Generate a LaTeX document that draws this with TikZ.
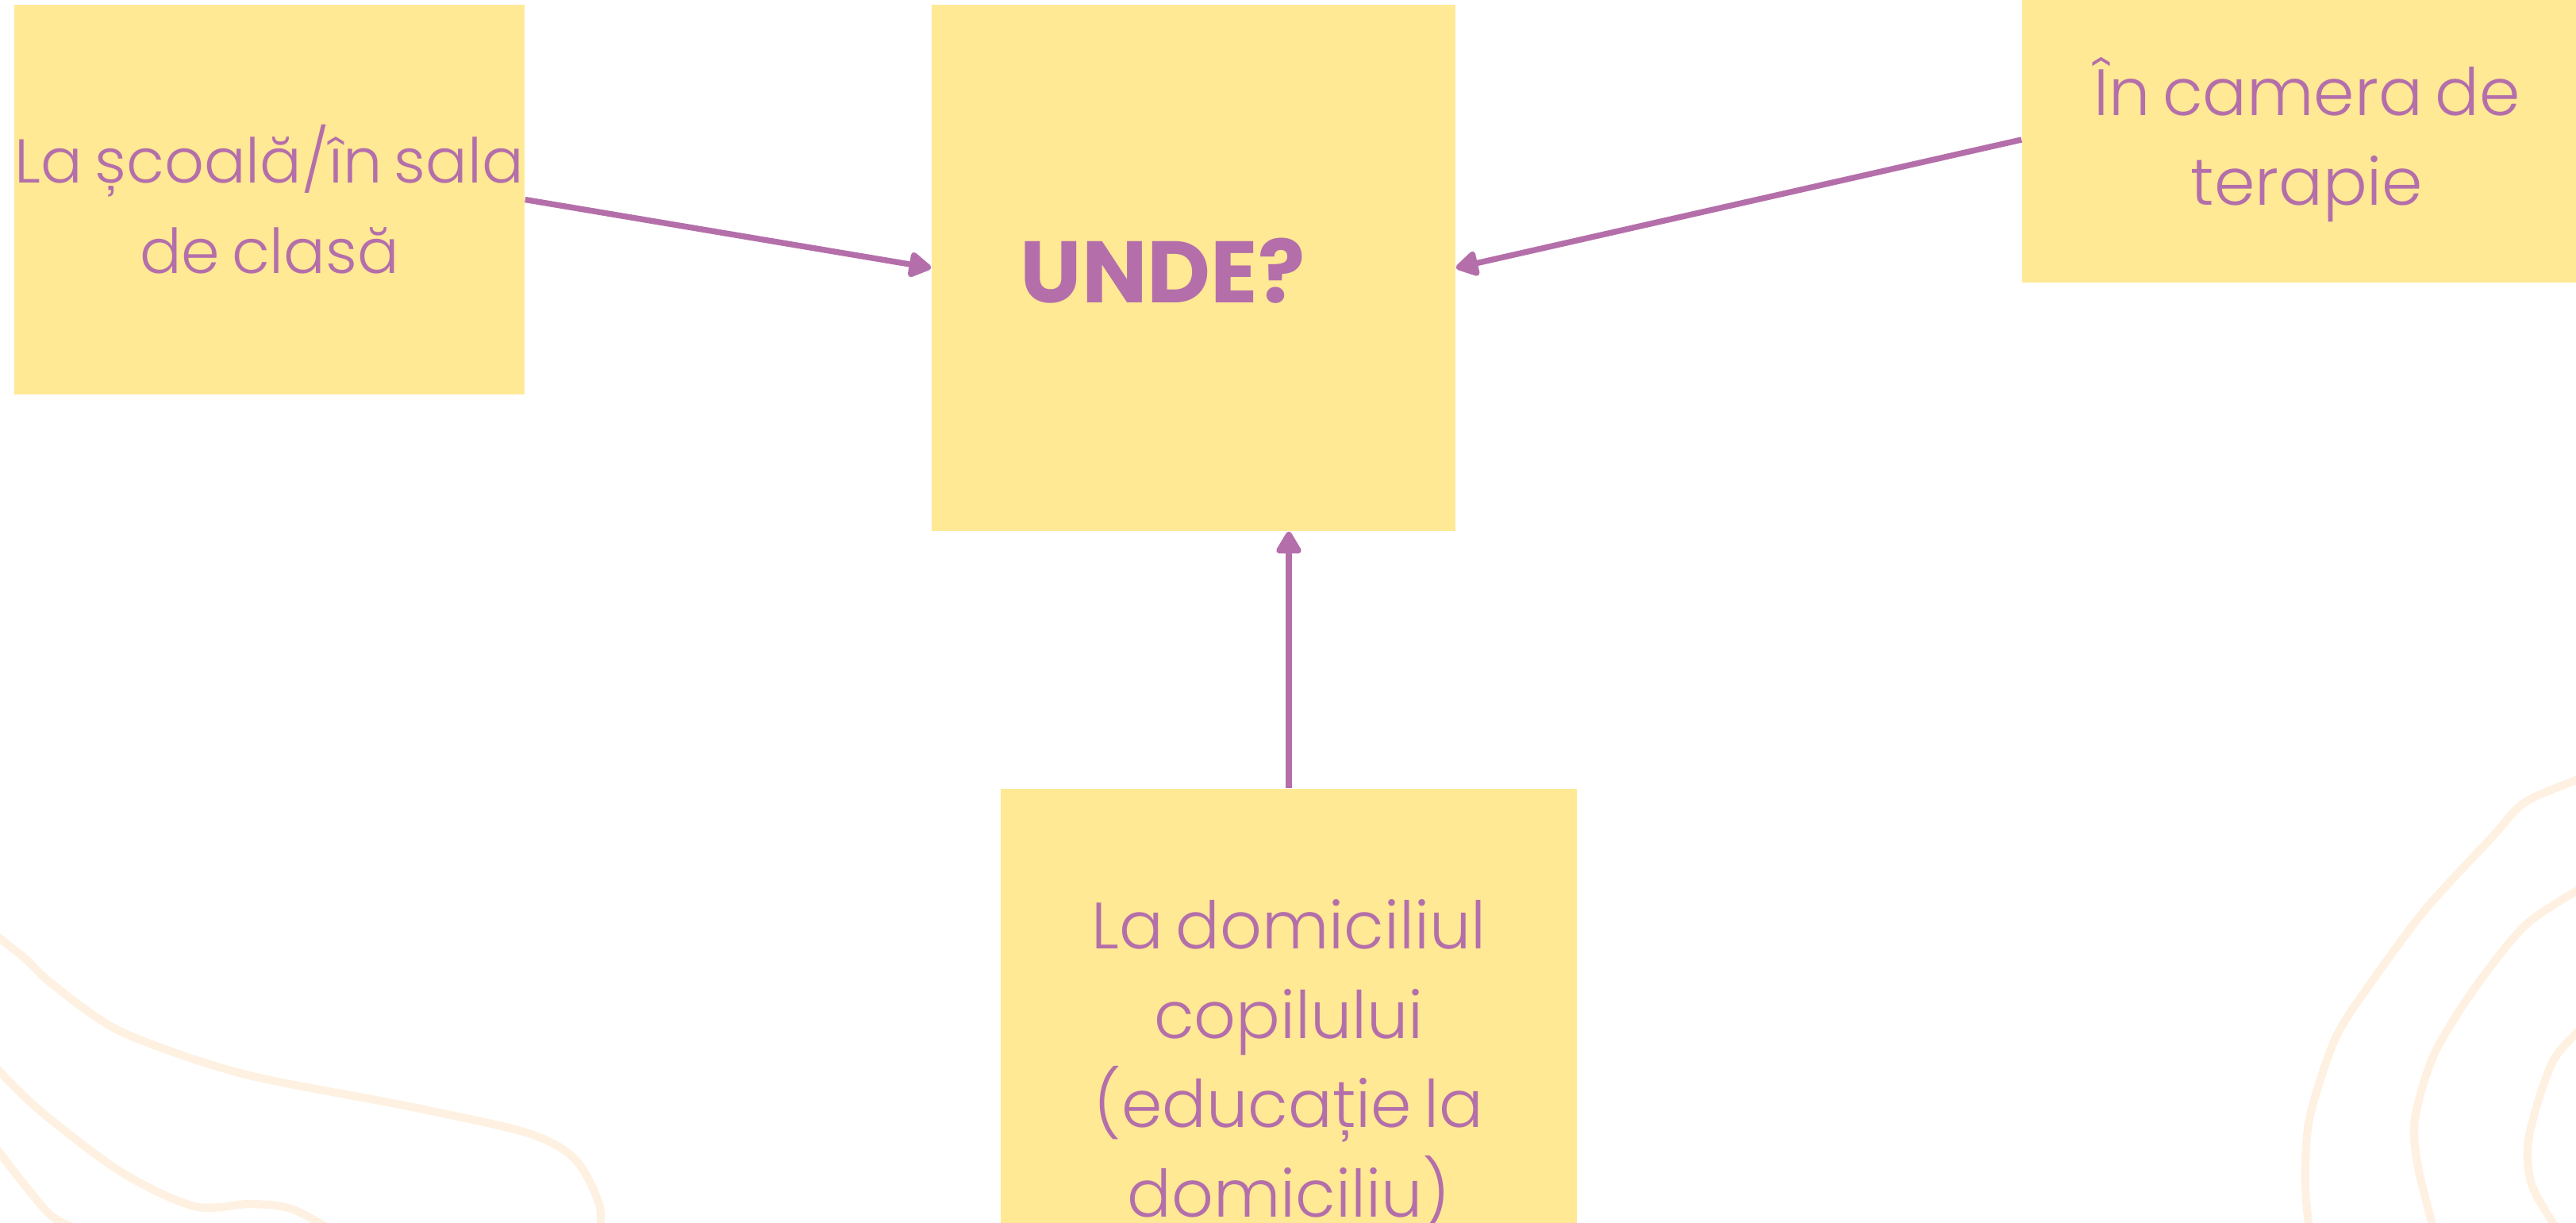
\documentclass[tikz,border=0pt]{standalone}
\usepackage{fontspec}
\setmainfont{Poppins Light}[WordSpace=0.7]
\newfontfamily\heavyfont{Poppins Bold}
\usetikzlibrary{arrows.meta}
\definecolor{notefill}{HTML}{FFE995}
\definecolor{plum}{HTML}{B46FAA}
\definecolor{swirl}{HTML}{FEF1E1}
\tikzset{>={Triangle[round,length=9pt,width=10pt]}}
\tikzset{
  note/.style={rectangle,fill=notefill,inner sep=0pt,align=center,text=plum,font=\fontsize{23.5}{32}\selectfont},
  link/.style={draw=plum,line width=2.1pt,->},
  contour/.style={draw=swirl,line width=2.9pt,line cap=round}
}

\begin{document}
\begin{tikzpicture}
\useasboundingbox (0,0) rectangle (32.46,-15.40);
\clip (0,0) rectangle (32.46,-15.40);
% background contours
\draw[contour] plot[smooth] coordinates {(-0.1,-11.75) (0.31,-12.07) (0.66,-12.40) (1.53,-13.00) (3.06,-13.53) (5.10,-13.93) (6.63,-14.27) (7.24,-14.60) (7.55,-15.17) (7.55,-15.6)};
\draw[contour] plot[smooth] coordinates {(-0.1,-13.40) (0.51,-14.00) (1.53,-14.77) (2.45,-15.20) (3.16,-15.17) (3.67,-15.23) (4.18,-15.5)};
\draw[contour] plot[smooth] coordinates {(-0.1,-14.40) (0.31,-14.93) (0.66,-15.33) (1.02,-15.5)};
\draw[contour] plot[smooth] coordinates {(32.6,-9.78) (31.83,-10.10) (31.40,-10.55) (30.57,-11.45) (29.90,-12.35) (29.43,-13.08) (29.10,-14.10) (29.05,-14.92) (29.10,-15.5)};
\draw[contour] plot[smooth] coordinates {(32.6,-11.15) (31.83,-11.65) (31.17,-12.47) (30.67,-13.29) (30.43,-14.10) (30.47,-14.71) (30.67,-15.5)};
\draw[contour] plot[smooth] coordinates {(32.6,-12.90) (32.17,-13.37) (31.87,-14.31) (31.90,-14.92) (32.23,-15.5)};
% notes
\node[note,font=\fontsize{22.2}{32.4}\selectfont,minimum width=6.43cm,minimum height=4.91cm] (school) at (3.395,-2.515) {La școală/în sala\\de clasă};
\node[note,minimum width=6.60cm,minimum height=6.63cm] (where) at (15.04,-3.375) {};
\node[note,font=\fontsize{23.5}{32.4}\selectfont,minimum width=7.18cm,minimum height=3.60cm] (therapy) at (29.07,-1.76) {În camera de\\terapie};
\node[note,minimum width=7.26cm,minimum height=6.94cm] (home) at (16.24,-13.41) {La domiciliul\\copilului\\(educație la\\domiciliu)};
\node[anchor=base,text=plum,font=\heavyfont\fontsize{31.3}{36}\selectfont] (unde) at (14.65,-3.81) {UNDE?};
% arrows
\draw[link] (school.east) -- (where.west);
\draw[link] (therapy.west) -- (where.east);
\draw[link] (home.north) -- (home.north |- where.south);
\end{tikzpicture}
\end{document}
